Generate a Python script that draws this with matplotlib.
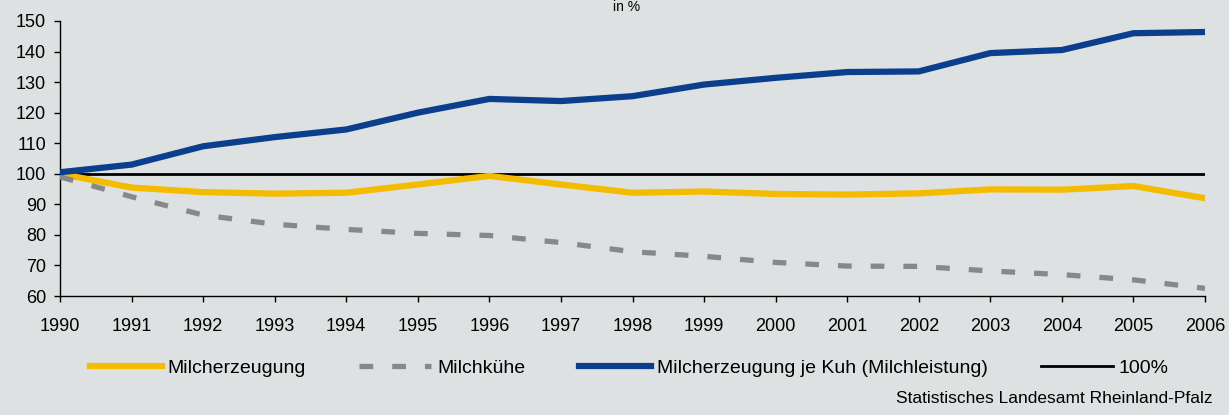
import matplotlib.pyplot as plt

plt.rcParams['font.family'] = ['Liberation Sans', 'DejaVu Sans']

# Data (index, 1990 = 100)
years = list(range(1990, 2007))
milcherzeugung = [100, 95.5, 94, 93.5, 93.8, 96.5, 99.3, 96.5, 93.8, 94.2, 93.4,
                  93.2, 93.6, 94.9, 94.8, 96.0, 92.0]
milchkuehe = [99, 92.5, 86.5, 83.5, 81.8, 80.5, 79.8, 77.5, 74.5, 73.0, 71.0,
              69.8, 69.7, 68.2, 67.0, 65.3, 62.5]
milchleistung = [100.5, 103, 109, 112, 114.5, 120, 124.5, 123.8, 125.4, 129.2, 131.4,
                 133.3, 133.5, 139.5, 140.5, 146.0, 146.4]
referenz = [100] * len(years)

bg = '#dee1e2'
fig = plt.figure(figsize=(12.29, 4.15), dpi=100, facecolor=bg)
ax = fig.add_axes([0.0488, 0.2867, 0.9317, 0.6627], facecolor=bg)

ax.plot(years, referenz, color='black', lw=2.0, label='100%', zorder=2)
ax.plot(years, milcherzeugung, color='#f4bb00', lw=4.5, label='Milcherzeugung',
        solid_joinstyle='round', zorder=3)
ax.plot(years, milchkuehe, color='#878889', lw=3.8, dashes=(2.6, 3.6),
        dash_capstyle='butt', label='Milchkühe', zorder=3)
ax.plot(years, milchleistung, color='#0b3f8d', lw=4.5,
        label='Milcherzeugung je Kuh (Milchleistung)', solid_joinstyle='round', zorder=4)

ax.set_xlim(1990, 2006)
ax.set_ylim(60, 150)
ax.set_xticks(years)
ax.set_yticks(range(60, 151, 10))
ax.tick_params(labelsize=13, colors='black', length=4, width=1, direction='out')
ax.tick_params(axis='x', pad=12)
ax.tick_params(axis='y', pad=6)
for s in ['top', 'right']:
    ax.spines[s].set_visible(False)
for s in ['left', 'bottom']:
    ax.spines[s].set_linewidth(1.0)

fig.text(0.51, 0.999, 'in %', ha='center', va='top', fontsize=10)

h, l = ax.get_legend_handles_labels()
order = [1, 2, 3, 0]
fig.legend([h[i] for i in order], [l[i] for i in order], loc='center',
           bbox_to_anchor=(0.512, 0.113), ncol=4, frameon=False, fontsize=14,
           handlelength=3.7, handletextpad=0.3, columnspacing=2.75)

fig.text(0.987, 0.022, 'Statistisches Landesamt Rheinland-Pfalz', ha='right',
         va='bottom', fontsize=12.5)

plt.savefig('out.png', dpi=100, facecolor=bg)
